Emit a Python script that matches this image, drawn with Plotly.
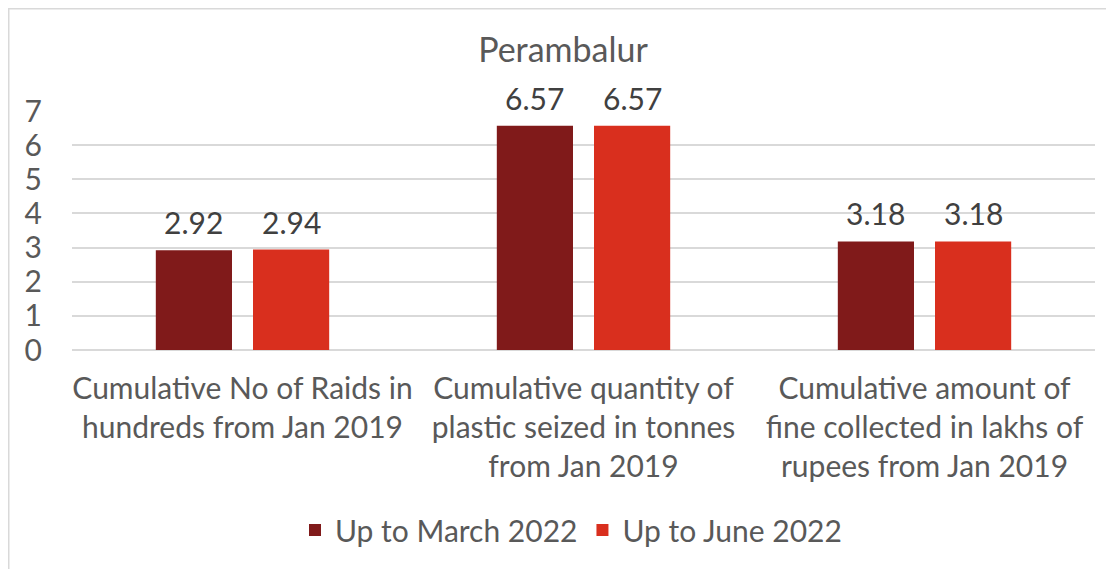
import plotly.graph_objects as go

categories = [
    "Cumulative No of Raids in<br>hundreds from Jan 2019",
    "Cumulative quantity of<br>plastic seized in tonnes<br>from Jan 2019",
    "Cumulative amount of<br>fine collected in lakhs of<br>rupees from Jan 2019",
]
series_names = ["Up to March 2022", "Up to June 2022"]
march_2022 = [2.92, 6.57, 3.18]
june_2022 = [2.94, 6.57, 3.18]
colors = ["#801A1A", "#D92F1E"]
y_ticks = [0, 1, 2, 3, 4, 5, 6, 7]

# page body has an 8px margin, so figure coords = screen coords - 8
OFF = 8
W, H = 1114 - OFF, 569 - OFF
L, R, T, B = 72 - OFF, 19, 111 - OFF, 219
FONT = "Lato"
TXT = "#595959"
FS = 30

pw = W - L - R
ph = H - T - B
def px(x):
    return (x - OFF - L) / pw
def py(y):
    return (H - B - (y - OFF)) / ph

bargap = 0.43
groupgap = 0.216
cat_w = pw / len(categories)
slot = cat_w * (1 - bargap) / 2

fig = go.Figure()
annotations = []
for i, (name, vals, col) in enumerate(zip(series_names, [march_2022, june_2022], colors)):
    fig.add_trace(go.Bar(
        x=categories, y=vals, name=name, marker_color=col,
        marker_line_width=0,
    ))
    shift = (i - 0.5) * slot
    for c, v in zip(categories, vals):
        annotations.append(dict(
            x=c, y=v, xref="x", yref="y", text=f"{v:.2f}", showarrow=False,
            xshift=shift, yshift=28, yanchor="middle", xanchor="center",
            font=dict(family=FONT, size=FS, color="#404040"),
        ))

fig.update_layout(
    width=W, height=H,
    margin=dict(l=L, r=R, t=T, b=B),
    paper_bgcolor="white", plot_bgcolor="white",
    barmode="group", bargap=bargap, bargroupgap=groupgap,
    font=dict(family=FONT, color=TXT, size=FS),
    title=dict(text="Perambalur", x=(563 - OFF) / W, xanchor="center",
               y=1 - (50 - OFF) / H, yanchor="middle",
               font=dict(family=FONT, size=34, color=TXT)),
    showlegend=True,
    legend=dict(orientation="h", x=px(571), xanchor="center",
                y=py(530), yanchor="middle",
                font=dict(family=FONT, size=FS, color=TXT),
                itemwidth=30, tracegroupgap=0),
    xaxis=dict(showgrid=False, showline=False, ticks="",
               tickfont=dict(family=FONT, size=FS, color=TXT),
               ticklabelstandoff=18),
    yaxis=dict(range=[0, 7], tickvals=y_ticks, showgrid=True,
               gridcolor="#D9D9D9", gridwidth=1.5, zeroline=True,
               zerolinecolor="#D9D9D9", zerolinewidth=1.5,
               showline=False, ticks="",
               tickfont=dict(family=FONT, size=FS, color=TXT),
               ticklabelstandoff=29),
    annotations=annotations,
    shapes=[
        dict(type="line", xref="paper", yref="paper",
             x0=px(8), x1=px(1130), y0=py(8.75), y1=py(8.75),
             line=dict(color="#D9D9D9", width=1.5)),
        dict(type="line", xref="paper", yref="paper",
             x0=px(8.75), x1=px(8.75), y0=py(8), y1=py(590),
             line=dict(color="#D9D9D9", width=1.5)),
    ],
)

fig.write_html("out.html")
